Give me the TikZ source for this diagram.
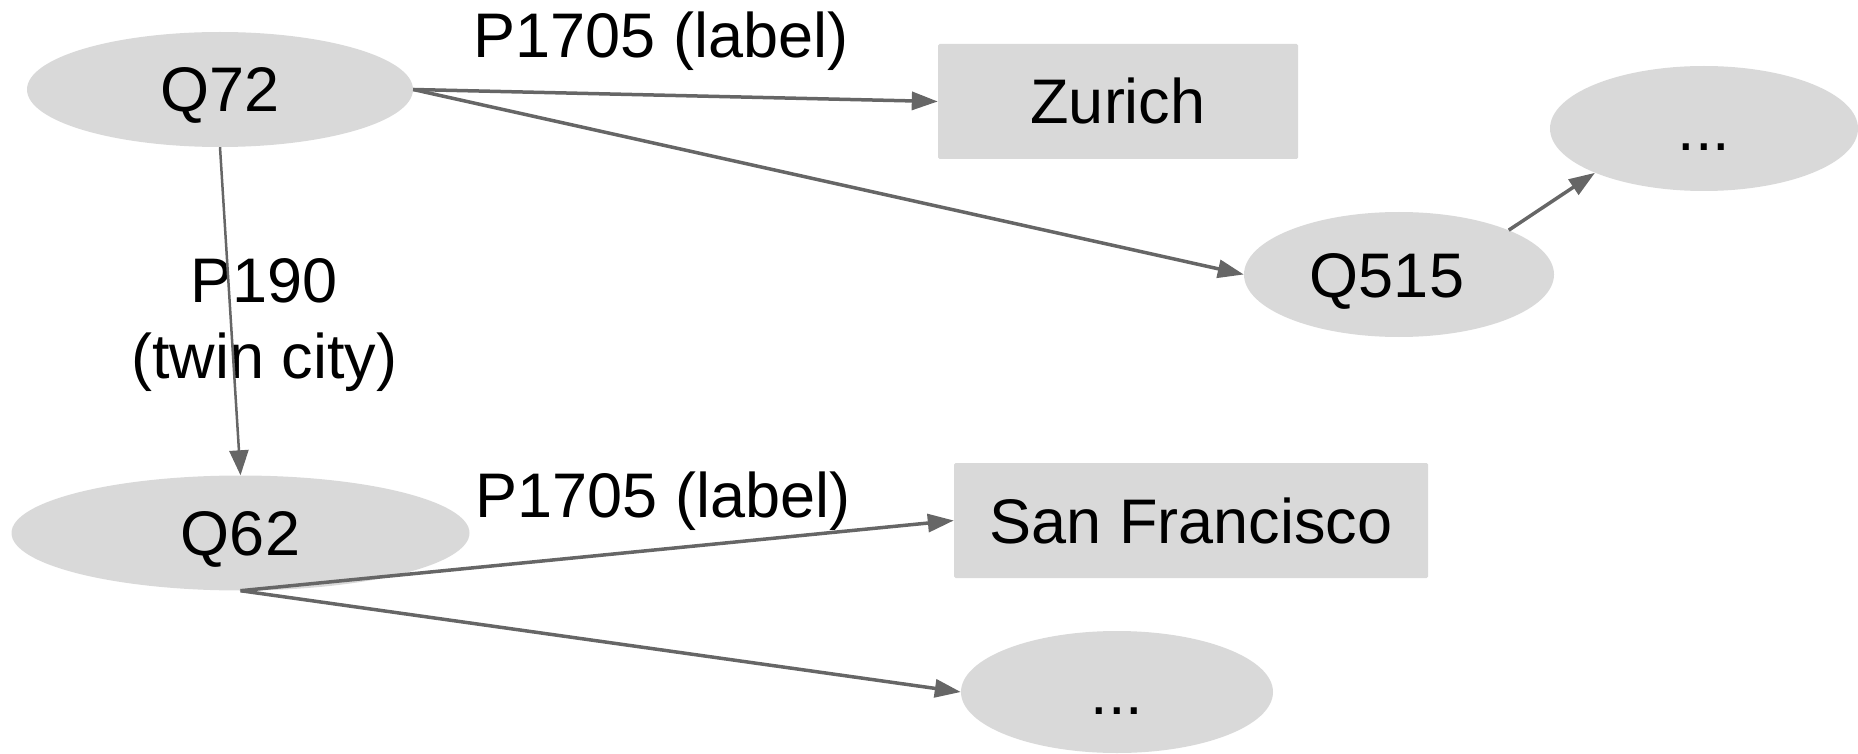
\documentclass[tikz,border=0pt]{standalone}
\usepackage{fontspec}
\setmainfont{Liberation Sans}
\usetikzlibrary{shapes.geometric,arrows.meta}
\definecolor{nodefill}{HTML}{D9D9D9}
\definecolor{edgegray}{HTML}{666666}
\begin{document}
\begin{tikzpicture}[x=1pt,y=-1pt,
  every node/.style={font=\fontsize{63}{70}\selectfont, text=black},
  ell/.style={ellipse, fill=nodefill, inner sep=0pt, text height=45pt, text depth=0pt},
  box/.style={rectangle, fill=nodefill, inner sep=0pt, rounded corners=1.5pt, text height=45pt, text depth=0pt},
  lbl/.style={anchor=base, inner sep=0pt},
  conn/.style={draw=edgegray, line width=3.5pt, -{Triangle[length=26pt,width=18pt]}},
  thinconn/.style={draw=edgegray, line width=2.5pt, -{Triangle[length=25pt,width=19pt]}}]
\useasboundingbox (0,0) rectangle (1858,754);
\node[ell, minimum width=386pt, minimum height=115pt] (q72) at (220,89.5) {Q72};
\node[box, minimum width=360pt, minimum height=115pt] (zurich) at (1118,101.5) {Zurich};
\node[ell, minimum width=308pt, minimum height=125pt] (dots1) at (1704,128.5) {...};
\node[ell, minimum width=310pt, minimum height=125pt] (q515) at (1399,274.5) {Q515\hspace*{24pt}};
\node[ell, minimum width=458pt, minimum height=115pt] (q62) at (240.5,533) {Q62};
\node[box, minimum width=474pt, minimum height=115pt] (sf) at (1191,520.5) {San Francisco};
\node[ell, minimum width=312pt, minimum height=122pt] (dots2) at (1117,692) {...};

\node[lbl] (l1) at (661,58) {P1705 (label)};
\node[lbl] (l2) at (663,517) {P1705 (label)};
\node[lbl] (l3a) at (264,302) {P190};
\node[lbl] (l3b) at (264.5,378) {(twin city)};

\draw[conn] (q72.east) -- (zurich.west);
\draw[conn] (q72.east) -- (q515.west);
\draw[thinconn] (q72.south) -- (q62.north);
\draw[conn] (q515.north east) -- (dots1.south west);
\draw[conn] (q62.south) -- (sf.west);
\draw[conn] (q62.south) -- (dots2.west);
\end{tikzpicture}
\end{document}
